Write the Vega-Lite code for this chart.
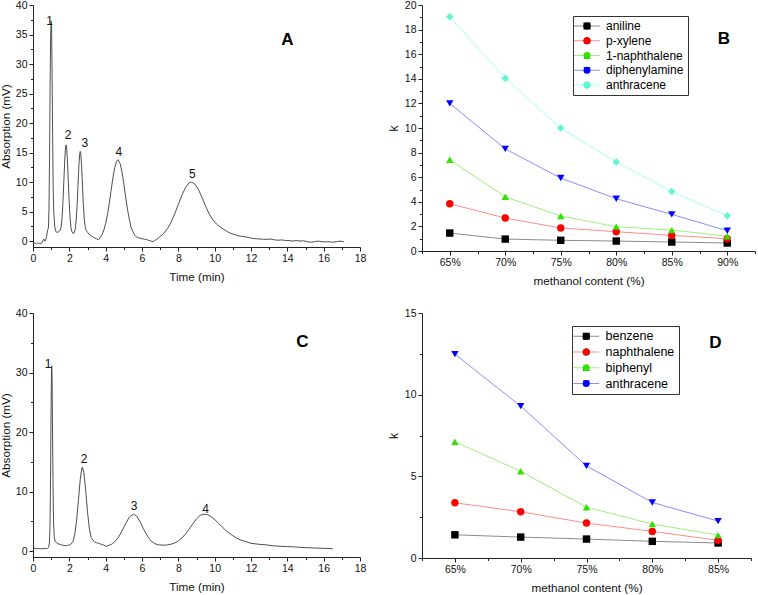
{
  "$schema": "https://vega.github.io/schema/vega-lite/v6.json",
  "padding": {"left": 0, "top": 0, "right": 0, "bottom": 0},
  "background": "white",
  "config": {
    "font": "Liberation Sans",
    "view": {"stroke": null},
    "axis": {"domainColor": "#222", "tickColor": "#222", "labelColor": "#111", "titleColor": "#111", "labelFont": "Liberation Sans", "titleFont": "Liberation Sans", "labelFontSize": 10.5, "titleFontSize": 11.7, "titleFontWeight": "normal", "grid": false, "labelFlush": false, "labelPadding": 2, "titlePadding": 4, "domainWidth": 1, "tickWidth": 1},
    "axisX": {"titlePadding": 8},
    "text": {"font": "Liberation Sans"}
  },
  "resolve": {"scale": {"stroke": "independent", "fill": "independent", "shape": "independent"}, "legend": {"stroke": "independent", "fill": "independent", "shape": "independent"}},
  "datasets": {
    "chromA": [
      {"t":0,"a":-0.35},{"t":0.05,"a":-0.45},{"t":0.1,"a":-0.3},{"t":0.15,"a":-0.4},{"t":0.2,"a":-0.45},{"t":0.25,"a":-0.3},{"t":0.3,"a":-0.4},{"t":0.35,"a":-0.35},{"t":0.4,"a":-0.5},{"t":0.45,"a":-0.3},{"t":0.5,"a":-0.25},{"t":0.55,"a":0.1},{"t":0.6,"a":0.35},{"t":0.65,"a":0.0},{"t":0.7,"a":0.2},{"t":0.75,"a":0.8},{"t":0.8,"a":1.8},{"t":0.85,"a":2.3},{"t":0.88,"a":5.5},{"t":0.91,"a":14},{"t":0.94,"a":26},{"t":0.97,"a":34.5},{"t":1.0,"a":37.3},{"t":1.02,"a":36.5},{"t":1.05,"a":29},{"t":1.08,"a":18},{"t":1.11,"a":9},{"t":1.15,"a":4.5},{"t":1.2,"a":2.4},{"t":1.25,"a":1.7},{"t":1.3,"a":1.5},{"t":1.38,"a":1.5},{"t":1.45,"a":1.7},{"t":1.5,"a":1.8},{"t":1.55,"a":2.4},{"t":1.6,"a":3.9},{"t":1.65,"a":6.7},{"t":1.7,"a":10.3},{"t":1.75,"a":13.9},{"t":1.79,"a":15.8},{"t":1.82,"a":16.3},{"t":1.85,"a":15.8},{"t":1.89,"a":13.9},{"t":1.94,"a":10.3},{"t":1.99,"a":6.7},{"t":2.04,"a":3.9},{"t":2.09,"a":2.3},{"t":2.14,"a":1.6},{"t":2.2,"a":1.3},{"t":2.26,"a":1.4},{"t":2.32,"a":1.9},{"t":2.38,"a":3.6},{"t":2.43,"a":6.2},{"t":2.48,"a":9.6},{"t":2.53,"a":13.0},{"t":2.57,"a":14.8},{"t":2.6,"a":15.2},{"t":2.63,"a":14.8},{"t":2.67,"a":13.0},{"t":2.72,"a":9.6},{"t":2.77,"a":6.2},{"t":2.82,"a":3.8},{"t":2.87,"a":2.5},{"t":2.93,"a":1.8},{"t":3.0,"a":1.5},{"t":3.1,"a":1.1},{"t":3.2,"a":0.9},{"t":3.3,"a":0.7},{"t":3.4,"a":0.5},{"t":3.5,"a":0.4},{"t":3.6,"a":0.2},{"t":3.7,"a":0.6},{"t":3.8,"a":1.1},{"t":3.9,"a":1.9},{"t":4.0,"a":3.0},{"t":4.1,"a":4.5},{"t":4.2,"a":6.4},{"t":4.3,"a":8.6},{"t":4.4,"a":10.7},{"t":4.5,"a":12.5},{"t":4.6,"a":13.5},{"t":4.68,"a":13.8},{"t":4.8,"a":13.1},{"t":4.9,"a":11.7},{"t":5.0,"a":9.7},{"t":5.1,"a":7.5},{"t":5.2,"a":5.4},{"t":5.3,"a":3.7},{"t":5.4,"a":2.3},{"t":5.5,"a":1.6},{"t":5.6,"a":1.0},{"t":5.7,"a":0.7},{"t":5.8,"a":0.55},{"t":5.9,"a":0.5},{"t":6.0,"a":0.4},{"t":6.1,"a":0.35},{"t":6.2,"a":0.3},{"t":6.3,"a":0.2},{"t":6.4,"a":0.1},{"t":6.5,"a":0.0},{"t":6.6,"a":-0.1},{"t":6.7,"a":0.1},{"t":6.8,"a":0.3},{"t":6.9,"a":0.5},{"t":7.0,"a":0.8},{"t":7.2,"a":1.3},{"t":7.4,"a":2.1},{"t":7.6,"a":3.2},{"t":7.8,"a":4.6},{"t":8.0,"a":6.2},{"t":8.2,"a":7.8},{"t":8.4,"a":9.1},{"t":8.6,"a":9.9},{"t":8.72,"a":10.0},{"t":8.9,"a":9.7},{"t":9.1,"a":8.8},{"t":9.3,"a":7.4},{"t":9.5,"a":5.9},{"t":9.7,"a":4.6},{"t":9.9,"a":3.6},{"t":10.1,"a":2.9},{"t":10.3,"a":2.4},{"t":10.5,"a":2.0},{"t":10.7,"a":1.6},{"t":10.9,"a":1.3},{"t":11.1,"a":1.1},{"t":11.3,"a":0.9},{"t":11.5,"a":0.8},{"t":11.7,"a":0.7},{"t":11.9,"a":0.6},{"t":12.1,"a":0.45},{"t":12.3,"a":0.4},{"t":12.5,"a":0.35},{"t":12.7,"a":0.3},{"t":12.9,"a":0.3},{"t":13.1,"a":0.35},{"t":13.3,"a":0.2},{"t":13.5,"a":0.15},{"t":13.7,"a":0.2},{"t":13.9,"a":0.1},{"t":14.1,"a":0.1},{"t":14.3,"a":0.0},{"t":14.5,"a":0.1},{"t":14.7,"a":0.0},{"t":14.9,"a":0.05},{"t":15.1,"a":-0.1},{"t":15.3,"a":-0.2},{"t":15.5,"a":-0.1},{"t":15.7,"a":0.0},{"t":15.9,"a":-0.1},{"t":16.1,"a":-0.15},{"t":16.3,"a":-0.1},{"t":16.5,"a":-0.2},{"t":16.7,"a":-0.1},{"t":16.9,"a":0.0},{"t":17.1,"a":-0.1}
    ],
    "chromC": [
      {"t":0,"a":0.4},{"t":0.1,"a":0.45},{"t":0.2,"a":0.4},{"t":0.3,"a":0.42},{"t":0.4,"a":0.38},{"t":0.5,"a":0.4},{"t":0.6,"a":0.45},{"t":0.7,"a":0.4},{"t":0.8,"a":0.45},{"t":0.85,"a":0.6},{"t":0.9,"a":1.2},{"t":0.93,"a":3.4},{"t":0.96,"a":10},{"t":0.99,"a":22},{"t":1.01,"a":28},{"t":1.03,"a":31.1},{"t":1.05,"a":29},{"t":1.07,"a":22},{"t":1.1,"a":12},{"t":1.13,"a":5},{"t":1.17,"a":2.4},{"t":1.22,"a":1.6},{"t":1.3,"a":1.4},{"t":1.4,"a":1.2},{"t":1.5,"a":1.1},{"t":1.6,"a":1.0},{"t":1.7,"a":0.95},{"t":1.8,"a":0.9},{"t":1.9,"a":0.95},{"t":2.0,"a":1.0},{"t":2.1,"a":1.2},{"t":2.2,"a":1.6},{"t":2.3,"a":2.8},{"t":2.4,"a":5.1},{"t":2.5,"a":8.5},{"t":2.6,"a":12.0},{"t":2.68,"a":13.8},{"t":2.72,"a":14.1},{"t":2.8,"a":13.2},{"t":2.9,"a":10.2},{"t":3.0,"a":6.6},{"t":3.1,"a":3.8},{"t":3.2,"a":2.3},{"t":3.3,"a":1.8},{"t":3.4,"a":1.5},{"t":3.5,"a":1.4},{"t":3.6,"a":1.3},{"t":3.7,"a":1.2},{"t":3.8,"a":1.1},{"t":3.9,"a":1.0},{"t":4.0,"a":0.8},{"t":4.1,"a":0.85},{"t":4.2,"a":1.0},{"t":4.3,"a":1.1},{"t":4.4,"a":1.3},{"t":4.5,"a":1.56},{"t":4.7,"a":2.3},{"t":4.9,"a":3.4},{"t":5.1,"a":4.6},{"t":5.3,"a":5.7},{"t":5.52,"a":6.2},{"t":5.7,"a":5.9},{"t":5.9,"a":4.9},{"t":6.1,"a":3.6},{"t":6.3,"a":2.5},{"t":6.5,"a":1.7},{"t":6.7,"a":1.25},{"t":6.9,"a":1.05},{"t":7.1,"a":1.0},{"t":7.3,"a":1.0},{"t":7.4,"a":1.05},{"t":7.6,"a":1.15},{"t":7.8,"a":1.35},{"t":8.0,"a":1.7},{"t":8.2,"a":2.2},{"t":8.4,"a":2.9},{"t":8.6,"a":3.7},{"t":8.8,"a":4.6},{"t":9.0,"a":5.4},{"t":9.2,"a":6.0},{"t":9.41,"a":6.2},{"t":9.6,"a":6.1},{"t":9.8,"a":5.8},{"t":10.0,"a":5.3},{"t":10.2,"a":4.7},{"t":10.4,"a":4.1},{"t":10.6,"a":3.5},{"t":10.8,"a":3.0},{"t":11.0,"a":2.6},{"t":11.2,"a":2.2},{"t":11.4,"a":1.9},{"t":11.7,"a":1.6},{"t":12.0,"a":1.3},{"t":12.4,"a":1.15},{"t":12.8,"a":1.05},{"t":13.2,"a":0.9},{"t":13.6,"a":0.8},{"t":14.0,"a":0.75},{"t":14.4,"a":0.7},{"t":14.8,"a":0.6},{"t":15.2,"a":0.55},{"t":15.6,"a":0.5},{"t":16.0,"a":0.45},{"t":16.5,"a":0.4}
    ],
    "kB": [
      {"m":65,"c":"aniline","k":1.46},{"m":70,"c":"aniline","k":0.97},{"m":75,"c":"aniline","k":0.87},{"m":80,"c":"aniline","k":0.81},{"m":85,"c":"aniline","k":0.73},{"m":90,"c":"aniline","k":0.65},
      {"m":65,"c":"p-xylene","k":3.84},{"m":70,"c":"p-xylene","k":2.68},{"m":75,"c":"p-xylene","k":1.87},{"m":80,"c":"p-xylene","k":1.57},{"m":85,"c":"p-xylene","k":1.27},{"m":90,"c":"p-xylene","k":1.0},
      {"m":65,"c":"1-naphthalene","k":7.42},{"m":70,"c":"1-naphthalene","k":4.41},{"m":75,"c":"1-naphthalene","k":2.84},{"m":80,"c":"1-naphthalene","k":1.98},{"m":85,"c":"1-naphthalene","k":1.7},{"m":90,"c":"1-naphthalene","k":1.2},
      {"m":65,"c":"diphenylamine","k":12.0},{"m":70,"c":"diphenylamine","k":8.3},{"m":75,"c":"diphenylamine","k":5.93},{"m":80,"c":"diphenylamine","k":4.25},{"m":85,"c":"diphenylamine","k":2.98},{"m":90,"c":"diphenylamine","k":1.65},
      {"m":65,"c":"anthracene","k":19.05},{"m":70,"c":"anthracene","k":14.05},{"m":75,"c":"anthracene","k":9.99},{"m":80,"c":"anthracene","k":7.23},{"m":85,"c":"anthracene","k":4.84},{"m":90,"c":"anthracene","k":2.87}
    ],
    "kD": [
      {"m":65,"c":"benzene","k":1.42},{"m":70,"c":"benzene","k":1.28},{"m":75,"c":"benzene","k":1.16},{"m":80,"c":"benzene","k":1.02},{"m":85,"c":"benzene","k":0.92},
      {"m":65,"c":"naphthalene","k":3.38},{"m":70,"c":"naphthalene","k":2.83},{"m":75,"c":"naphthalene","k":2.14},{"m":80,"c":"naphthalene","k":1.63},{"m":85,"c":"naphthalene","k":1.08},
      {"m":65,"c":"biphenyl","k":7.12},{"m":70,"c":"biphenyl","k":5.31},{"m":75,"c":"biphenyl","k":3.11},{"m":80,"c":"biphenyl","k":2.08},{"m":85,"c":"biphenyl","k":1.4},
      {"m":65,"c":"anthracene","k":12.48},{"m":70,"c":"anthracene","k":9.3},{"m":75,"c":"anthracene","k":5.64},{"m":80,"c":"anthracene","k":3.4},{"m":85,"c":"anthracene","k":2.26}
    ]
  },
  "columns": 2,
  "spacing": {"row": 20, "column": 21},
  "concat": [
    {
      "width": 327, "height": 242,
      "layer": [
        {
          "data": {"name": "chromA"},
          "mark": {"type": "line", "color": "#3a3a3a", "strokeWidth": 0.9},
          "encoding": {
            "x": {"field": "t", "type": "quantitative", "scale": {"domain": [0, 18], "nice": false}, "axis": {"title": "Time (min)", "labelOverlap": false, "tickCount": 100, "values": [0,1,2,3,4,5,6,7,8,9,10,11,12,13,14,15,16,17,18], "labelExpr": "datum.value % 2 === 0 ? '' + datum.value : ''", "tickSize": {"condition": {"test": "datum.value % 2 === 0", "value": 4}, "value": 2.5}}},
            "y": {"field": "a", "type": "quantitative", "scale": {"domain": [-1, 40], "nice": false}, "axis": {"title": "Absorption (mV)", "labelOverlap": false, "tickCount": 100, "values": [0,2.5,5,7.5,10,12.5,15,17.5,20,22.5,25,27.5,30,32.5,35,37.5,40], "labelExpr": "datum.value % 5 === 0 ? '' + datum.value : ''", "tickSize": {"condition": {"test": "datum.value % 5 === 0", "value": 4}, "value": 2.5}}}
          }
        },
        {
          "data": {"values": [{"t":0.92,"a":37.3,"s":"1"},{"t":1.93,"a":17.9,"s":"2"},{"t":2.86,"a":16.6,"s":"3"},{"t":4.73,"a":15.1,"s":"4"},{"t":8.77,"a":11.4,"s":"5"}]},
          "mark": {"type": "text", "fontSize": 12, "color": "#111", "baseline": "middle", "align": "center"},
          "encoding": {"x": {"field": "t", "type": "quantitative"}, "y": {"field": "a", "type": "quantitative"}, "text": {"field": "s"}}
        },
        {
          "data": {"values": [{"t":14.0,"a":34.0,"s":"A"}]},
          "mark": {"type": "text", "fontSize": 17, "fontWeight": "bold", "color": "#000", "baseline": "middle", "align": "center"},
          "encoding": {"x": {"field": "t", "type": "quantitative"}, "y": {"field": "a", "type": "quantitative"}, "text": {"field": "s"}}
        }
      ]
    },
    {
      "width": 333, "height": 246,
      "layer": [
        {
          "data": {"name": "kB"},
          "mark": {"type": "line", "strokeWidth": 1},
          "encoding": {
            "x": {"field": "m", "type": "quantitative", "scale": {"domain": [62.5, 92.5], "nice": false}, "axis": {"title": "methanol content (%)", "labelOverlap": false, "tickCount": 100, "values": [62.5,65,67.5,70,72.5,75,77.5,80,82.5,85,87.5,90,92.5], "labelExpr": "datum.value % 5 === 0 ? datum.value + '%' : ''", "tickSize": {"condition": {"test": "datum.value % 5 === 0", "value": 4}, "value": 2.5}}},
            "y": {"field": "k", "type": "quantitative", "scale": {"domain": [0, 20], "nice": false}, "axis": {"title": "k", "titleFontSize": 12, "labelOverlap": false, "tickCount": 100, "values": [0,1,2,3,4,5,6,7,8,9,10,11,12,13,14,15,16,17,18,19,20], "labelExpr": "datum.value % 2 === 0 ? '' + datum.value : ''", "tickSize": {"condition": {"test": "datum.value % 2 === 0", "value": 4}, "value": 2.5}}},
            "stroke": {"field": "c", "type": "nominal", "scale": {"domain": ["aniline", "p-xylene", "1-naphthalene", "diphenylamine", "anthracene"], "range": ["#8c8c8c", "#ff8c8c", "#9cf27a", "#8c8cff", "#a6fff0"]}, "legend": {"title": null, "orient": "none", "legendX": 151, "legendY": 11, "symbolType": "M-3.7,0H3.7", "symbolSize": 49, "symbolStrokeWidth": 1, "symbolOffset": 4, "labelOffset": 13, "labelFontSize": 12, "labelFont": "Liberation Sans", "labelColor": "#000", "rowPadding": 2.75, "padding": 4, "strokeColor": "#333"}}
          }
        },
        {
          "data": {"name": "kB"},
          "mark": {"type": "point", "filled": true, "opacity": 1, "size": 55},
          "encoding": {
            "x": {"field": "m", "type": "quantitative"},
            "y": {"field": "k", "type": "quantitative"},
            "fill": {"field": "c", "type": "nominal", "sort": ["aniline", "p-xylene", "1-naphthalene", "diphenylamine", "anthracene"], "scale": {"range": ["#000000", "#ff0000", "#33e000", "#0000ff", "#5ff5d5"]}, "legend": {"title": null, "orient": "none", "legendX": 151, "legendY": 11, "symbolSize": 49, "symbolStrokeWidth": 1, "symbolOffset": 4, "labelOffset": 13, "labelFontSize": 12, "labelFont": "Liberation Sans", "labelColor": "transparent", "rowPadding": 2.75, "padding": 4}},
            "shape": {"field": "c", "type": "nominal", "sort": ["aniline", "p-xylene", "1-naphthalene", "diphenylamine", "anthracene"], "scale": {"range": ["square", "circle", "triangle-up", "triangle-down", "diamond"]}, "legend": {"title": null, "orient": "none", "legendX": 151, "legendY": 11, "symbolSize": 49, "symbolStrokeWidth": 1, "symbolOffset": 4, "labelOffset": 13, "labelFontSize": 12, "labelFont": "Liberation Sans", "labelColor": "transparent", "rowPadding": 2.75, "padding": 4}}
          }
        },
        {
          "data": {"values": [{"m":89.7,"k":17.2,"s":"B"}]},
          "mark": {"type": "text", "fontSize": 17, "fontWeight": "bold", "color": "#000", "baseline": "middle", "align": "center"},
          "encoding": {"x": {"field": "m", "type": "quantitative"}, "y": {"field": "k", "type": "quantitative"}, "text": {"field": "s"}}
        }
      ]
    },
    {
      "width": 327, "height": 244,
      "layer": [
        {
          "data": {"name": "chromC"},
          "mark": {"type": "line", "color": "#3a3a3a", "strokeWidth": 0.9},
          "encoding": {
            "x": {"field": "t", "type": "quantitative", "scale": {"domain": [0, 18], "nice": false}, "axis": {"title": "Time (min)", "labelOverlap": false, "tickCount": 100, "values": [0,1,2,3,4,5,6,7,8,9,10,11,12,13,14,15,16,17,18], "labelExpr": "datum.value % 2 === 0 ? '' + datum.value : ''", "tickSize": {"condition": {"test": "datum.value % 2 === 0", "value": 4}, "value": 2.5}}},
            "y": {"field": "a", "type": "quantitative", "scale": {"domain": [-1, 40], "nice": false}, "axis": {"title": "Absorption (mV)", "labelOverlap": false, "tickCount": 100, "values": [0,5,10,15,20,25,30,35,40], "labelExpr": "datum.value % 10 === 0 ? '' + datum.value : ''", "tickSize": {"condition": {"test": "datum.value % 10 === 0", "value": 4}, "value": 2.5}}}
          }
        },
        {
          "data": {"values": [{"t":0.83,"a":31.4,"s":"1"},{"t":2.81,"a":15.45,"s":"2"},{"t":5.56,"a":7.6,"s":"3"},{"t":9.5,"a":7.0,"s":"4"}]},
          "mark": {"type": "text", "fontSize": 12, "color": "#111", "baseline": "middle", "align": "center"},
          "encoding": {"x": {"field": "t", "type": "quantitative"}, "y": {"field": "a", "type": "quantitative"}, "text": {"field": "s"}}
        },
        {
          "data": {"values": [{"t":14.83,"a":35.06,"s":"C"}]},
          "mark": {"type": "text", "fontSize": 17, "fontWeight": "bold", "color": "#000", "baseline": "middle", "align": "center"},
          "encoding": {"x": {"field": "t", "type": "quantitative"}, "y": {"field": "a", "type": "quantitative"}, "text": {"field": "s"}}
        }
      ]
    },
    {
      "width": 329, "height": 245,
      "layer": [
        {
          "data": {"name": "kD"},
          "mark": {"type": "line", "strokeWidth": 1},
          "encoding": {
            "x": {"field": "m", "type": "quantitative", "scale": {"domain": [62.5, 87.5], "nice": false}, "axis": {"title": "methanol content (%)", "labelOverlap": false, "tickCount": 100, "values": [62.5,65,67.5,70,72.5,75,77.5,80,82.5,85,87.5], "labelExpr": "datum.value % 5 === 0 ? datum.value + '%' : ''", "tickSize": {"condition": {"test": "datum.value % 5 === 0", "value": 4}, "value": 2.5}}},
            "y": {"field": "k", "type": "quantitative", "scale": {"domain": [0, 15], "nice": false}, "axis": {"title": "k", "titleFontSize": 12, "labelOverlap": false, "tickCount": 100, "values": [0,2.5,5,7.5,10,12.5,15], "labelExpr": "datum.value % 5 === 0 ? '' + datum.value : ''", "tickSize": {"condition": {"test": "datum.value % 5 === 0", "value": 4}, "value": 2.5}}},
            "stroke": {"field": "c", "type": "nominal", "scale": {"domain": ["benzene", "naphthalene", "biphenyl", "anthracene"], "range": ["#8c8c8c", "#ff8c8c", "#9cf27a", "#8c8cff"]}, "legend": {"title": null, "orient": "none", "legendX": 150, "legendY": 13, "symbolType": "M-3.7,0H3.7", "symbolSize": 49, "symbolStrokeWidth": 1, "symbolOffset": 4, "labelOffset": 13, "labelFontSize": 12.5, "labelFont": "Liberation Sans", "labelColor": "#000", "rowPadding": 2.75, "padding": 4, "strokeColor": "#333"}}
          }
        },
        {
          "data": {"name": "kD"},
          "mark": {"type": "point", "filled": true, "opacity": 1, "size": 55},
          "encoding": {
            "x": {"field": "m", "type": "quantitative"},
            "y": {"field": "k", "type": "quantitative"},
            "fill": {"field": "c", "type": "nominal", "sort": ["benzene", "naphthalene", "biphenyl", "anthracene"], "scale": {"range": ["#000000", "#ff0000", "#33e000", "#0000ff"]}, "legend": {"title": null, "orient": "none", "legendX": 150, "legendY": 13, "symbolSize": 49, "symbolStrokeWidth": 1, "symbolOffset": 4, "labelOffset": 13, "labelFontSize": 12.5, "labelFont": "Liberation Sans", "labelColor": "transparent", "rowPadding": 2.75, "padding": 4}},
            "shape": {"field": "c", "type": "nominal", "sort": ["benzene", "naphthalene", "biphenyl", "anthracene"], "scale": {"range": ["square", "circle", "triangle-up", "triangle-down"]}, "legend": {"title": null, "orient": "none", "legendX": 150, "legendY": 13, "symbolSize": 49, "symbolStrokeWidth": 1, "symbolOffset": 4, "labelOffset": 13, "labelFontSize": 12.5, "labelFont": "Liberation Sans", "labelColor": "transparent", "rowPadding": 2.75, "padding": 4}}
          }
        },
        {
          "data": {"values": [{"m":84.8,"k":13.17,"s":"D"}]},
          "mark": {"type": "text", "fontSize": 17, "fontWeight": "bold", "color": "#000", "baseline": "middle", "align": "center"},
          "encoding": {"x": {"field": "m", "type": "quantitative"}, "y": {"field": "k", "type": "quantitative"}, "text": {"field": "s"}}
        }
      ]
    }
  ]
}
